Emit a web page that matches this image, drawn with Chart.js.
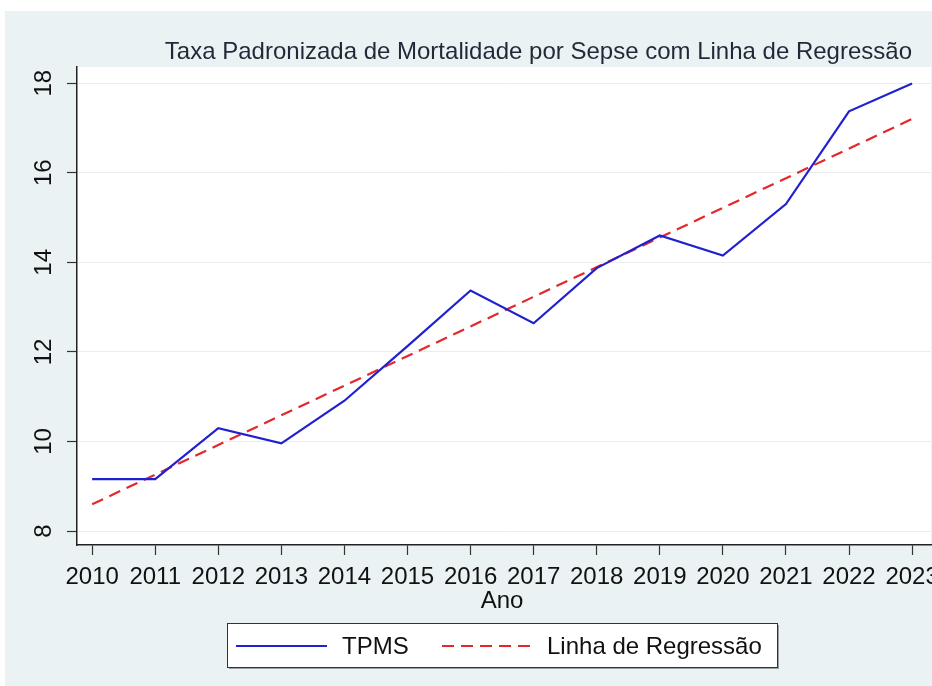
<!DOCTYPE html>
<html>
<head>
<meta charset="utf-8">
<title>Taxa Padronizada de Mortalidade por Sepse</title>
<script src="https://cdn.jsdelivr.net/npm/chart.js@4.4.0/dist/chart.umd.min.js"></script>
<style>
  html, body { margin: 0; padding: 0; background: #fff; }
</style>
</head>
<body>
<canvas id="grafico" width="932" height="686"></canvas>
<script>
// dados
const anos = [2010, 2011, 2012, 2013, 2014, 2015, 2016, 2017, 2018, 2019, 2020, 2021, 2022, 2023]
const tpms = [9.16, 9.16, 10.30, 9.96, 10.91, 12.13, 13.37, 12.64, 13.87, 14.60, 14.15, 15.30, 17.37, 17.99]
const regAnos = [2010, 2023]
const regValores = [8.60, 17.20]
const yTicks = [8, 10, 12, 14, 16, 18]

const fonte = '"Liberation Sans", Arial, sans-serif'

// fundo, titulo, rotulos do eixo y e legenda
const desenho = {
    id: 'desenho',
    beforeDraw(chart) {
        const ctx = chart.ctx
        const a = chart.chartArea
        ctx.save()
        ctx.fillStyle = '#ffffff'
        ctx.fillRect(0, 0, chart.width, chart.height)
        ctx.fillStyle = '#eaf2f3'
        ctx.fillRect(5, 11, chart.width - 5, chart.height - 11)
        ctx.fillStyle = '#ffffff'
        ctx.fillRect(a.left, a.top, a.right - a.left, a.bottom - a.top)
        ctx.restore()
    },
    afterDraw(chart) {
        const ctx = chart.ctx
        const a = chart.chartArea
        const y = chart.scales.y
        ctx.save()

        // rotulos verticais do eixo y
        ctx.font = '24px ' + fonte
        ctx.fillStyle = '#111111'
        ctx.textAlign = 'center'
        ctx.textBaseline = 'middle'
        for (let v of yTicks) {
            ctx.save()
            ctx.translate(43, y.getPixelForValue(v))
            ctx.rotate(-Math.PI / 2)
            ctx.fillText(String(v), 0, 1)
            ctx.restore()
        }

        // titulo
        ctx.font = '24px ' + fonte
        ctx.fillStyle = '#1f2a38'
        ctx.textAlign = 'right'
        ctx.textBaseline = 'alphabetic'
        ctx.fillText('Taxa Padronizada de Mortalidade por Sepse com Linha de Regressão', 912, 59)

        // titulo do eixo x
        ctx.fillStyle = '#111111'
        ctx.textAlign = 'center'
        ctx.fillText('Ano', (a.left + a.right) / 2 - 2, 608)

        // legenda
        ctx.fillStyle = '#9aa0a4'
        ctx.fillRect(229, 625, 550, 44)
        ctx.fillStyle = '#ffffff'
        ctx.fillRect(227.5, 623.5, 550, 44)
        ctx.strokeStyle = '#333333'
        ctx.lineWidth = 1
        ctx.strokeRect(227.5, 623.5, 550, 44)

        const itens = [
            {x0: 236, x1: 327, tx: 342},
            {x0: 442, x1: 532, tx: 547}
        ]
        chart.data.datasets.forEach((ds, i) => {
            const it = itens[i]
            ctx.beginPath()
            ctx.strokeStyle = ds.borderColor
            ctx.lineWidth = ds.borderWidth
            ctx.setLineDash(ds.borderDash || [])
            ctx.moveTo(it.x0, 646)
            ctx.lineTo(it.x1, 646)
            ctx.stroke()
            ctx.setLineDash([])
            ctx.fillStyle = '#111111'
            ctx.textAlign = 'left'
            ctx.textBaseline = 'alphabetic'
            ctx.font = '24px ' + fonte
            ctx.fillText(ds.label, it.tx, 654)
        })
        ctx.restore()
    }
}

const ctx = document.getElementById('grafico').getContext('2d')
const grafico = new Chart(ctx, {
    type: 'line',
    data: {
        datasets: [{
            label: 'TPMS',
            data: anos.map((ano, i) => ({x: ano, y: tpms[i]})),
            borderColor: '#2020d0',
            borderWidth: 2.2,
            pointRadius: 0,
            tension: 0
        }, {
            label: 'Linha de Regressão',
            data: regAnos.map((ano, i) => ({x: ano, y: regValores[i]})),
            borderColor: '#e3282c',
            borderWidth: 2.2,
            borderDash: [12, 7],
            pointRadius: 0,
            tension: 0
        }]
    },
    options: {
        responsive: false,
        animation: false,
        devicePixelRatio: 1,
        layout: {padding: {left: 0, top: 67, right: 1, bottom: 0}},
        plugins: {
            legend: {display: false},
            title: {display: false},
            tooltip: {enabled: false}
        },
        scales: {
            x: {
                type: 'linear',
                min: 2009.76,
                max: 2023.3,
                afterBuildTicks: (s) => { s.ticks = anos.map(v => ({value: v})) },
                afterFit: (s) => { s.height = 141; s.paddingLeft = 0; s.paddingRight = 0 },
                grid: {drawOnChartArea: false, drawTicks: true, tickLength: 10, tickColor: '#333333', tickWidth: 1.2},
                border: {display: true, color: '#222222', width: 1.5},
                ticks: {
                    color: '#111111',
                    font: {family: fonte, size: 24},
                    padding: 8,
                    maxRotation: 0,
                    autoSkip: false,
                    callback: (v) => String(v)
                }
            },
            y: {
                min: 7.69,
                max: 18.36,
                afterBuildTicks: (s) => { s.ticks = yTicks.map(v => ({value: v})) },
                afterFit: (s) => { s.width = 77; s.paddingTop = 0; s.paddingBottom = 0 },
                grid: {color: '#ececec', lineWidth: 1, drawTicks: true, tickLength: 10, tickColor: '#333333', tickWidth: 1.2},
                border: {display: true, color: '#222222', width: 1.5},
                ticks: {display: false}
            }
        }
    },
    plugins: [desenho]
})
</script>
</body>
</html>
